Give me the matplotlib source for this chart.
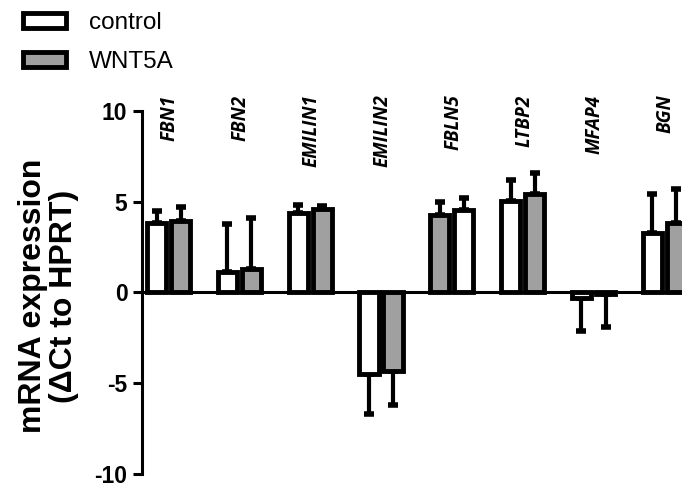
import matplotlib
matplotlib.use("Agg")
import matplotlib.pyplot as plt
import numpy as np
from matplotlib.patches import Patch
from matplotlib.transforms import blended_transform_factory

# 数据
genes = ["FBN1", "FBN2", "EMILIN1", "EMILIN2", "FBLN5", "LTBP2", "MFAP4", "BGN"]
left_vals = [3.8, 1.15, 4.4, -4.5, 4.25, 5.05, -0.3, 3.3]
left_err = [0.7, 2.6, 0.4, 2.2, 0.75, 1.15, 1.85, 2.1]
right_vals = [3.95, 1.3, 4.6, -4.35, 4.55, 5.45, -0.1, 3.8]
right_err = [0.75, 2.8, 0.15, 1.85, 0.65, 1.15, 1.8, 1.9]
# FBLN5 的颜色顺序在原图中是反的
left_fill = ["white", "white", "white", "white", "#a0a0a0", "white", "white", "white"]
right_fill = ["#a0a0a0", "#a0a0a0", "#a0a0a0", "#a0a0a0", "white", "#a0a0a0", "#a0a0a0", "#a0a0a0"]
series_names = ["control", "WNT5A"]
series_colors = ["white", "#a0a0a0"]

plt.rcParams["font.family"] = ["Liberation Sans", "DejaVu Sans"]

fig = plt.figure(figsize=(6.82, 4.88), dpi=100)
ax = fig.add_axes([0.2082, 0.0287, 0.7918, 0.744])

x = np.arange(len(genes))
off = 0.17
w = 0.27
lw = 3.5


def one_sided(vals, errs):
    lo = [e if v < 0 else 0 for v, e in zip(vals, errs)]
    hi = [e if v >= 0 else 0 for v, e in zip(vals, errs)]
    return [lo, hi]


for xs, vals, errs, fills in [
    (x - off, left_vals, left_err, left_fill),
    (x + off, right_vals, right_err, right_fill),
]:
    ax.errorbar(xs, vals, yerr=one_sided(vals, errs), fmt="none", ecolor="black",
                elinewidth=3, capsize=3.5, capthick=4, zorder=1)
    ax.bar(xs, vals, width=w, color=fills, edgecolor="black", linewidth=lw, zorder=2)

ax.set_xlim(-0.375, 7.25)
ax.set_ylim(-10, 10)
ax.set_yticks([-10, -5, 0, 5, 10])
ax.set_yticklabels(["-10", "-5", "0", "5", "10"], fontsize=16.5, fontweight="bold")
ax.tick_params(axis="y", direction="out", length=6.5, width=2.2, pad=4)
ax.tick_params(axis="x", bottom=False, labelbottom=False)

for side in ["top", "right"]:
    ax.spines[side].set_visible(False)
ax.spines["left"].set_linewidth(2.2)
ax.spines["bottom"].set_linewidth(2.2)
ax.spines["bottom"].set_position(("data", 0))
ax.spines["bottom"].set_zorder(3)

ax.set_ylabel("mRNA expression\n(\u0394Ct to HPRT)", fontsize=23, fontweight="bold",
              linespacing=1.05)
ax.yaxis.set_label_coords(-0.117, 0.49)

# 基因名
trans = blended_transform_factory(ax.transData, ax.transAxes)
for xi, g in zip(x, genes):
    ax.text(xi + 0.02, 1.045, g, transform=trans, rotation=90, ha="center", va="top",
            fontsize=13.5, fontstyle="italic", fontweight="bold",
            family=["Open Sans", "DejaVu Sans"], clip_on=False)

# 图例
handles = [Patch(facecolor=c, edgecolor="black", linewidth=3.5) for c in series_colors]
fig.legend(handles, series_names, loc="upper left", bbox_to_anchor=(0.02, 0.995),
           frameon=False, fontsize=17.5, handlelength=1.75, handleheight=0.55,
           handletextpad=0.95, labelspacing=0.7, borderaxespad=0)

fig.savefig("out.png", dpi=100, facecolor="white")
